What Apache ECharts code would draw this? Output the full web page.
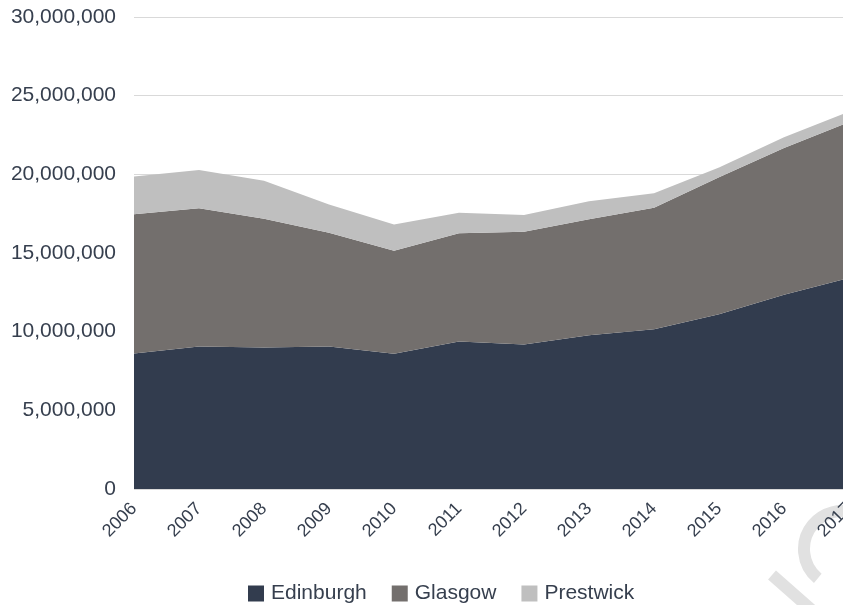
<!DOCTYPE html>
<html>
<head>
<meta charset="utf-8">
<script src="https://cdn.jsdelivr.net/npm/echarts@6/dist/echarts.min.js"></script>
<style>
html,body{margin:0;padding:0;background:#fff;overflow:hidden;}
#c{width:843px;height:605px;}
</style>
</head>
<body>
<div id="c"></div>
<script>
const years = ['2006','2007','2008','2009','2010','2011','2012','2013','2014','2015','2016','2017'];
const edinburgh = [8610000, 9050000, 9000000, 9050000, 8600000, 9380000, 9190000, 9780000, 10160000, 11110000, 12350000, 13410000];
const glasgow = [8850000, 8800000, 8180000, 7230000, 6550000, 6880000, 7160000, 7360000, 7720000, 8710000, 9330000, 9900000];
const prestwick = [2400000, 2420000, 2420000, 1800000, 1660000, 1300000, 1070000, 1150000, 910000, 610000, 680000, 670000];
const seriesNames = ['Edinburgh', 'Glasgow', 'Prestwick'];

const colors = ['#323c4e', '#736f6d', '#bfbfbf'];
const textColor = '#363f4e';
const chart = echarts.init(document.getElementById('c'), null, {renderer: 'canvas'});
function mk(name, data, i) {
  return {
    name: name, type: 'line', stack: 'total', data: data,
    symbol: 'none', smooth: false, z: 3,
    lineStyle: {width: 0}, areaStyle: {color: colors[i], opacity: 1},
    itemStyle: {color: colors[i]}
  };
}
chart.setOption({
  animation: false,
  textStyle: {fontFamily: 'Liberation Sans, Arial, sans-serif'},
  grid: {left: 134, width: 715, top: 17, height: 472, containLabel: false, outerBoundsMode: 'none'},
  graphic: {
    z: 0, zlevel: 0,
    elements: [
      {type: 'arc', z: 0, silent: true,
       shape: {cx: 842, cy: 549, r: 38, startAngle: Math.PI * 0.72, endAngle: Math.PI * 1.62, clockwise: true},
       style: {stroke: '#e1e1e1', lineWidth: 12, fill: null}},
      {type: 'line', z: 0, silent: true,
       shape: {x1: 772, y1: 575, x2: 814, y2: 612},
       style: {stroke: '#e1e1e1', lineWidth: 12}}
    ]
  },
  legend: {
    top: 583, left: 248, padding: 0, icon: 'rect', itemWidth: 16, itemHeight: 16, itemGap: 25,
    textStyle: {fontSize: 21, color: textColor, padding: [0, 0, 0, 2]},
    data: seriesNames
  },
  xAxis: {
    type: 'category', data: years, boundaryGap: false, z: 10,
    axisLine: {show: false}, axisTick: {show: false},
    axisLabel: {rotate: 45, fontSize: 18, color: textColor, margin: 17, interval: 0}
  },
  yAxis: {
    type: 'value', min: 0, max: 30000000, interval: 5000000,
    axisLine: {show: false}, axisTick: {show: false},
    splitLine: {lineStyle: {color: '#d9d9d9', width: 1}},
    axisLabel: {
      fontSize: 21, color: textColor, margin: 18,
      formatter: v => v.toLocaleString('en-US')
    }
  },
  series: [mk(seriesNames[0], edinburgh, 0), mk(seriesNames[1], glasgow, 1), mk(seriesNames[2], prestwick, 2)]
});
</script>
</body>
</html>
